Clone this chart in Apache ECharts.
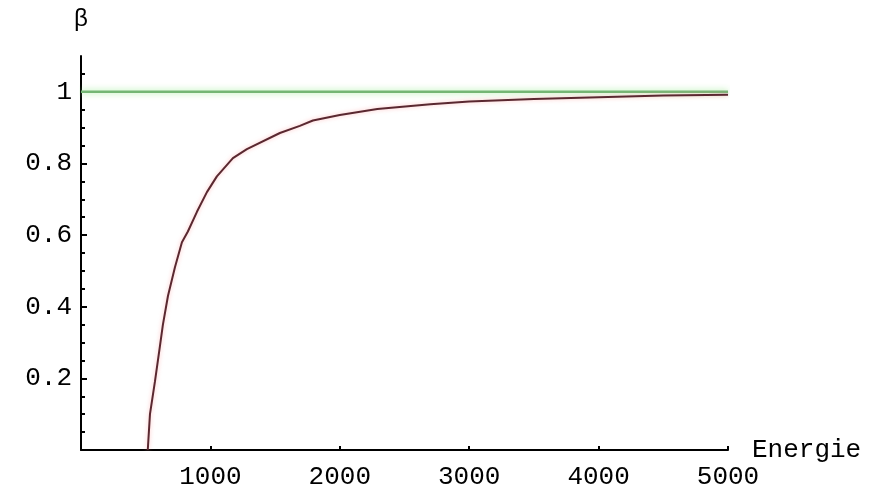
<!DOCTYPE html>
<html>
<head>
<meta charset="utf-8">
<script src="https://cdn.jsdelivr.net/npm/echarts@6/dist/echarts.min.js"></script>
<style>
  html, body { margin: 0; padding: 0; background: #fff; }
  #beta_chart { width: 884px; height: 490px; }
</style>
</head>
<body>
<div id="beta_chart"></div>
<script>
// beta(E) curve
var energie = [516, 533, 571, 610, 633, 672, 726, 780, 826, 896, 973, 1050, 1174, 1282, 1537, 1691, 1792, 2000, 2290, 2700, 3000, 3500, 4000, 4500, 5000];
var beta    = [0, 0.1, 0.19, 0.29, 0.35, 0.43, 0.51, 0.58, 0.61, 0.665, 0.72, 0.764, 0.815, 0.84, 0.885, 0.905, 0.92, 0.935, 0.952, 0.965, 0.973, 0.98, 0.985, 0.99, 0.992];

// limit c (green line)
var limitX = [0, 5000];
var limitY = [1, 1];

var xTicks = [1000, 2000, 3000, 4000, 5000];
var yTicks = [0.2, 0.4, 0.6, 0.8, 1];
var yMinorTicks = [0.05, 0.1, 0.15, 0.25, 0.3, 0.35, 0.45, 0.5, 0.55, 0.65, 0.7, 0.75, 0.85, 0.9, 0.95, 1.05];

var monoFont = 'Liberation Mono, Courier New, monospace';

var zip = function (xs, ys) {
    return xs.map(function (x, i) { return [x, ys[i]]; });
};

var option = {
    backgroundColor: '#fff',
    animation: false,
    grid: {
        left: 81,
        right: 156,
        top: 56,
        bottom: 38
    },
    xAxis: {
        type: 'value',
        min: 0,
        max: 5000,
        interval: 1000,
        name: 'Energie',
        nameLocation: 'end',
        nameGap: 24,
        nameTextStyle: {
            color: '#000',
            fontFamily: monoFont,
            fontSize: 26,
            verticalAlign: 'middle'
        },
        axisLine: { onZero: false, lineStyle: { color: '#000', width: 2 } },
        axisTick: {
            inside: true,
            length: 4,
            customValues: xTicks,
            lineStyle: { color: '#000', width: 2 }
        },
        axisLabel: {
            customValues: xTicks,
            color: '#000',
            fontFamily: monoFont,
            fontSize: 26,
            margin: 14,
            formatter: function (v) { return String(v); }
        },
        splitLine: { show: false }
    },
    yAxis: [
        {
            type: 'value',
            min: 0,
            max: 1.1,
            name: 'β',
            nameLocation: 'end',
            nameGap: 24,
            nameTextStyle: {
                color: '#000',
                fontFamily: monoFont,
                fontSize: 24
            },
            axisLine: { show: true, lineStyle: { color: '#000', width: 2 } },
            axisTick: {
                inside: true,
                length: 6,
                customValues: yTicks,
                lineStyle: { color: '#000', width: 2 }
            },
            axisLabel: {
                customValues: yTicks,
                color: '#000',
                fontFamily: monoFont,
                fontSize: 26,
                margin: 9,
                formatter: function (v) { return String(Math.round(v * 10) / 10); }
            },
            splitLine: { show: false }
        },
        {
            type: 'value',
            min: 0,
            max: 1.1,
            position: 'left',
            axisLine: { show: false },
            axisTick: {
                inside: true,
                length: 4,
                customValues: yMinorTicks,
                lineStyle: { color: '#000', width: 2 }
            },
            axisLabel: { show: false },
            splitLine: { show: false }
        }
    ],
    series: [
        {
            name: 'c',
            type: 'line',
            data: zip(limitX, limitY),
            showSymbol: false,
            lineStyle: {
                color: '#74b674',
                width: 2.5,
                shadowColor: 'rgba(150,235,140,0.9)',
                shadowBlur: 6
            },
            z: 2
        },
        {
            name: 'beta',
            type: 'line',
            data: zip(energie, beta),
            showSymbol: false,
            lineStyle: {
                color: '#5a2830',
                width: 2,
                shadowColor: 'rgba(255,150,150,0.6)',
                shadowBlur: 4
            },
            z: 3
        }
    ]
};

var myChart = echarts.init(document.getElementById('beta_chart'));
myChart.setOption(option);
</script>
</body>
</html>
